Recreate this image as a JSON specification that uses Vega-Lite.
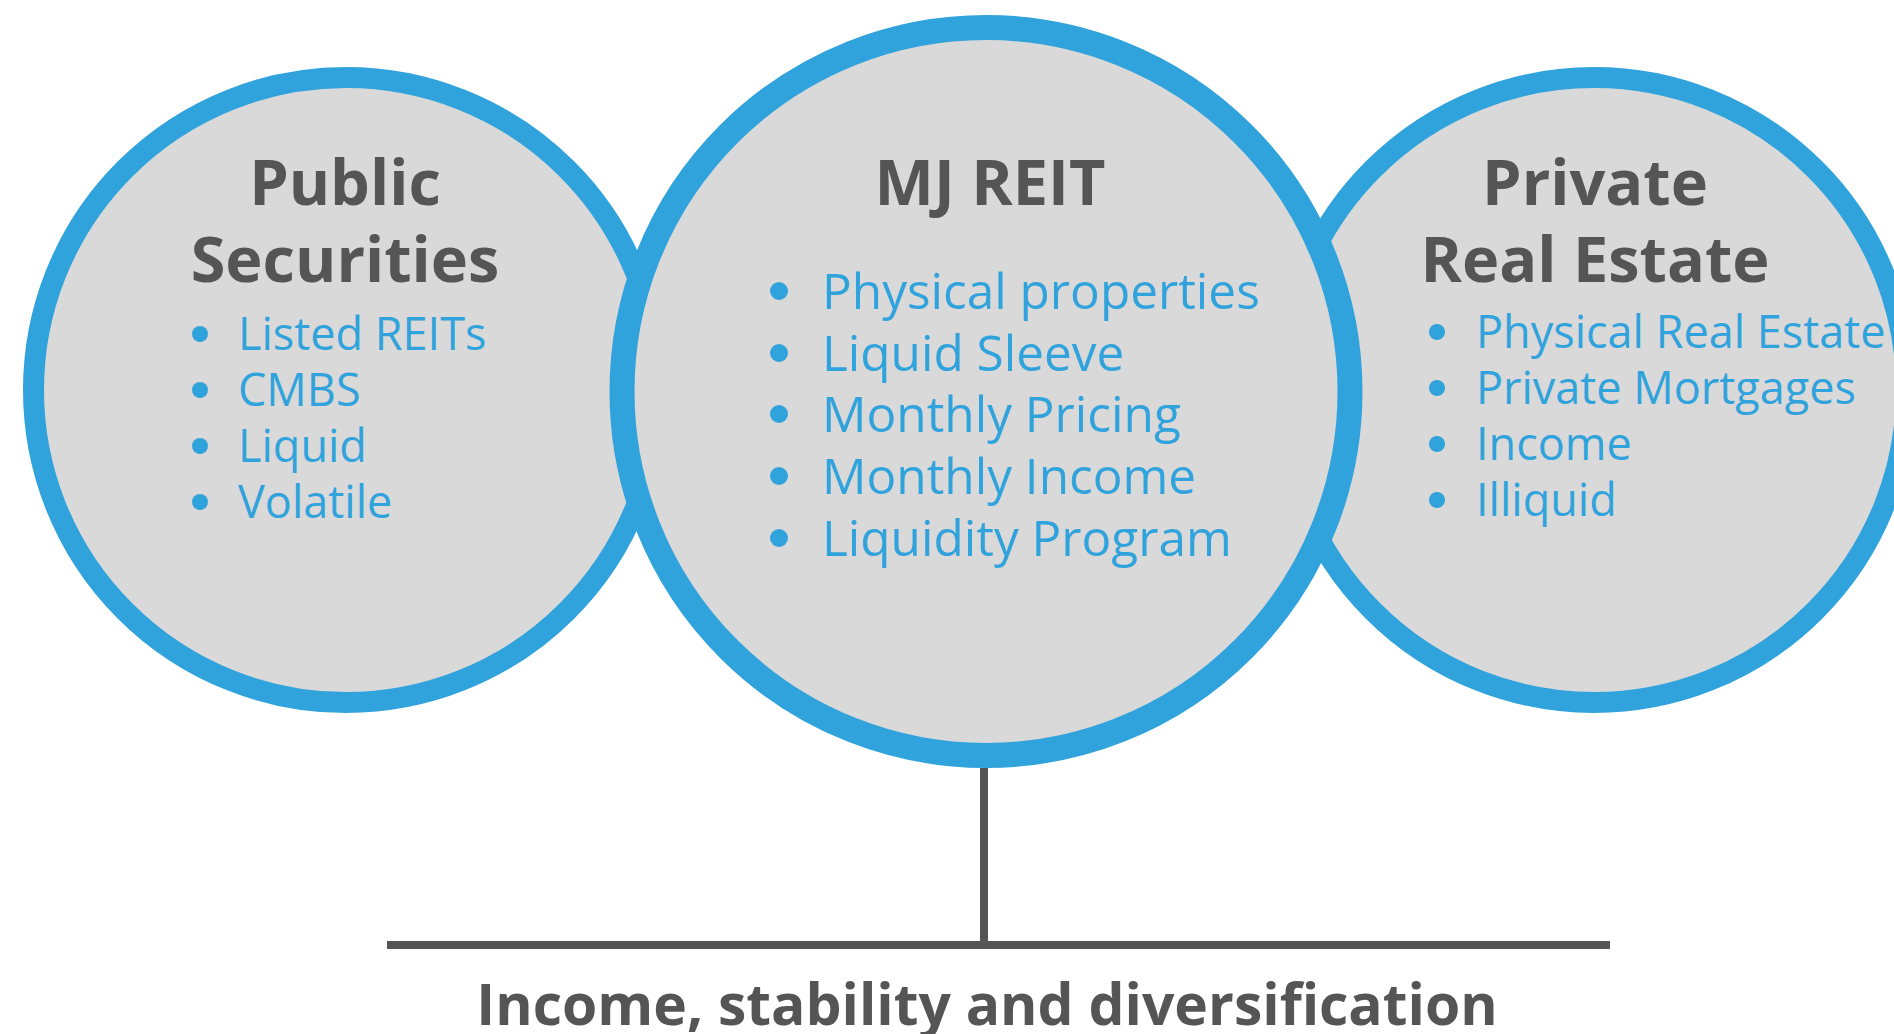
{
  "$schema": "https://vega.github.io/schema/vega-lite/v6.json",
  "width": 1894,
  "height": 1034,
  "padding": 0,
  "autosize": {"type": "none"},
  "background": "#ffffff",
  "config": {"view": {"stroke": null}},
  "datasets": {
    "circles": [
      {"name": "Public Securities", "kind": "side", "cx": 346, "cy": 390},
      {"name": "Private Real Estate", "kind": "side", "cx": 1594, "cy": 390},
      {"name": "MJ REIT", "kind": "main", "cx": 986, "cy": 391.5}
    ],
    "lines": [
      {"part": "stem", "x": 984, "y": 768, "x2": 984, "y2": 945},
      {"part": "bar", "x": 387, "y": 945, "x2": 1610, "y2": 945}
    ],
    "titles": [
      {"group": "Public Securities", "line": "Public", "x": 345, "y": 205},
      {"group": "Public Securities", "line": "Securities", "x": 345, "y": 282},
      {"group": "MJ REIT", "line": "MJ REIT", "x": 990, "y": 205},
      {"group": "Private Real Estate", "line": "Private", "x": 1595, "y": 205},
      {"group": "Private Real Estate", "line": "Real Estate", "x": 1595, "y": 282}
    ],
    "items": [
      {"group": "side", "label": "Listed REITs", "x": 238, "bx": 200, "y": 350},
      {"group": "side", "label": "CMBS", "x": 238, "bx": 200, "y": 406},
      {"group": "side", "label": "Liquid", "x": 238, "bx": 200, "y": 462},
      {"group": "side", "label": "Volatile", "x": 238, "bx": 200, "y": 518},
      {"group": "main", "label": "Physical properties", "x": 822, "bx": 779, "y": 309},
      {"group": "main", "label": "Liquid Sleeve", "x": 822, "bx": 779, "y": 371},
      {"group": "main", "label": "Monthly Pricing", "x": 822, "bx": 779, "y": 432},
      {"group": "main", "label": "Monthly Income", "x": 822, "bx": 779, "y": 494},
      {"group": "main", "label": "Liquidity Program", "x": 822, "bx": 779, "y": 556},
      {"group": "side", "label": "Physical Real Estate", "x": 1476, "bx": 1437, "y": 348},
      {"group": "side", "label": "Private Mortgages", "x": 1476, "bx": 1437, "y": 404},
      {"group": "side", "label": "Income", "x": 1476, "bx": 1437, "y": 460},
      {"group": "side", "label": "Illiquid", "x": 1476, "bx": 1437, "y": 516}
    ],
    "caption": [
      {"text": "Income, stability and diversification", "x": 987, "y": 1025}
    ]
  },
  "data": {"name": "circles"},
  "layer": [
    {
      "transform": [{"filter": "datum.kind === 'side'"}],
      "mark": {"type": "point", "shape": "circle", "filled": false, "fill": "#d9d9d9", "fillOpacity": 1, "stroke": "#31a3dc", "strokeWidth": 21, "opacity": 1, "size": 390625},
      "encoding": {
        "x": {"field": "cx", "type": "quantitative", "scale": {"domain": [0, 1894], "nice": false, "zero": false}, "axis": null},
        "y": {"field": "cy", "type": "quantitative", "scale": {"domain": [1034, 0], "nice": false, "zero": false}, "axis": null}
      }
    },
    {
      "transform": [{"filter": "datum.kind === 'main'"}],
      "mark": {"type": "point", "shape": "circle", "filled": false, "fill": "#d9d9d9", "fillOpacity": 1, "stroke": "#31a3dc", "strokeWidth": 25, "opacity": 1, "size": 529984},
      "encoding": {
        "x": {"field": "cx", "type": "quantitative"},
        "y": {"field": "cy", "type": "quantitative"}
      }
    },
    {
      "data": {"name": "lines"},
      "mark": {"type": "rule", "color": "#555555", "strokeWidth": 8},
      "encoding": {
        "x": {"field": "x", "type": "quantitative"},
        "y": {"field": "y", "type": "quantitative"},
        "x2": {"field": "x2"},
        "y2": {"field": "y2"}
      }
    },
    {
      "data": {"name": "titles"},
      "mark": {"type": "text", "font": "Open Sans", "fontWeight": "bold", "fontSize": 63, "color": "#555555", "align": "center", "baseline": "alphabetic"},
      "encoding": {
        "x": {"field": "x", "type": "quantitative"},
        "y": {"field": "y", "type": "quantitative"},
        "text": {"field": "line"}
      }
    },
    {
      "data": {"name": "items"},
      "transform": [{"filter": "datum.group === 'side'"}],
      "mark": {"type": "point", "shape": "circle", "filled": true, "color": "#31a3dc", "opacity": 1, "size": 256, "yOffset": -16},
      "encoding": {
        "x": {"field": "bx", "type": "quantitative"},
        "y": {"field": "y", "type": "quantitative"}
      }
    },
    {
      "data": {"name": "items"},
      "transform": [{"filter": "datum.group === 'main'"}],
      "mark": {"type": "point", "shape": "circle", "filled": true, "color": "#31a3dc", "opacity": 1, "size": 324, "yOffset": -18},
      "encoding": {
        "x": {"field": "bx", "type": "quantitative"},
        "y": {"field": "y", "type": "quantitative"}
      }
    },
    {
      "data": {"name": "items"},
      "transform": [{"filter": "datum.group === 'side'"}],
      "mark": {"type": "text", "font": "Open Sans", "fontSize": 45, "color": "#31a3dc", "align": "left", "baseline": "alphabetic"},
      "encoding": {
        "x": {"field": "x", "type": "quantitative"},
        "y": {"field": "y", "type": "quantitative"},
        "text": {"field": "label"}
      }
    },
    {
      "data": {"name": "items"},
      "transform": [{"filter": "datum.group === 'main'"}],
      "mark": {"type": "text", "font": "Open Sans", "fontSize": 49.5, "color": "#31a3dc", "align": "left", "baseline": "alphabetic"},
      "encoding": {
        "x": {"field": "x", "type": "quantitative"},
        "y": {"field": "y", "type": "quantitative"},
        "text": {"field": "label"}
      }
    },
    {
      "data": {"name": "caption"},
      "mark": {"type": "text", "font": "Open Sans", "fontWeight": "bold", "fontSize": 57, "color": "#555555", "align": "center", "baseline": "alphabetic"},
      "encoding": {
        "x": {"field": "x", "type": "quantitative"},
        "y": {"field": "y", "type": "quantitative"},
        "text": {"field": "text"}
      }
    }
  ]
}
